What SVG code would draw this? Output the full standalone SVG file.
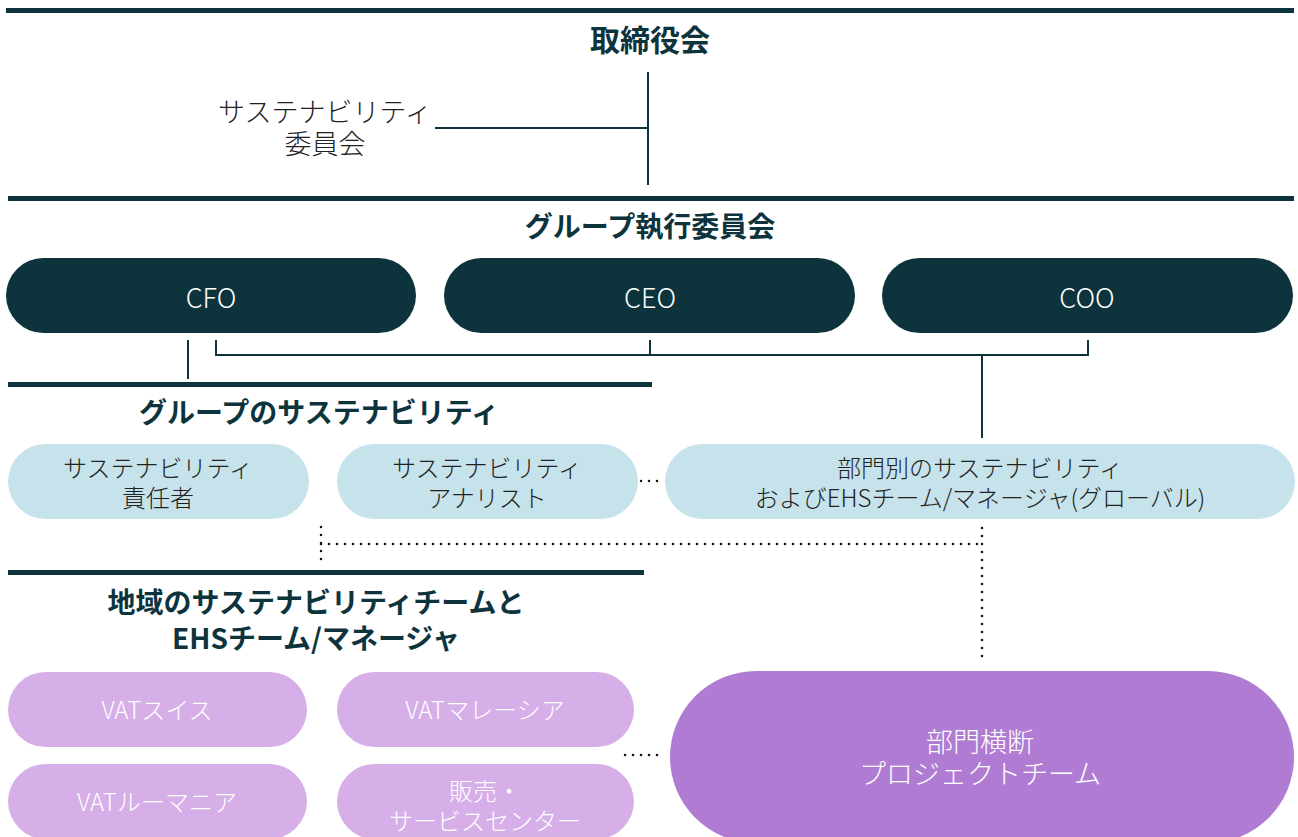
<svg xmlns="http://www.w3.org/2000/svg" width="1298" height="837" viewBox="0 0 1298 837">
<style>
text{font-family:"Noto Sans CJK JP","Noto Sans",sans-serif;text-anchor:middle;dominant-baseline:central}
.h{font-weight:700;font-size:28px;fill:#0d343c}
.h1{font-size:30px}
.l{font-weight:300;font-size:24px;fill:#222}
.lc{font-size:27px}
.w{font-weight:300;font-size:27px;fill:#ffffff}
.ws{font-size:24px}
.bar{fill:#0d343c}
.dark{fill:#0d343c}
.blue{fill:#c6e2ea}
.lp{fill:#d6aee8}
.pp{fill:#b07cd3}
.ln{stroke:#0d343c;stroke-width:2;fill:none}
.dot{stroke:#111;stroke-width:2.5;stroke-linecap:round;stroke-dasharray:0 8;fill:none}
</style>
<g id="bars">
<rect class="bar" x="6" y="8" width="1288" height="5"/>
<rect class="bar" x="8" y="196" width="1286" height="5"/>
<rect class="bar" x="8" y="382" width="644" height="5"/>
<rect class="bar" x="8" y="570" width="636" height="5"/>
</g>
<g id="connectors">
<path class="ln" d="M648 72V185M435 128H648"/>
<path class="ln" d="M188 340V379"/>
<path class="ln" d="M216 340V355H1088V340M650 340V355M982 355V438"/>
<path class="dot" d="M641 481H663"/>
<path class="dot" d="M321 527V563M321 544H982M982 528V663"/>
<path class="dot" d="M625 755H661"/>
</g>
<g id="board"><text class="h h1" x="650" y="38">取締役会</text></g>
<g id="sust-committee"><text class="l lc" x="325" y="110"><tspan x="325">サステナビリティ</tspan><tspan x="325" dy="32">委員会</tspan></text></g>
<g id="gec"><text class="h" x="650" y="225">グループ執行委員会</text></g>
<g id="cfo"><rect class="dark" x="6" y="258" width="410" height="75" rx="37.5"/><text class="w" x="211" y="296">CFO</text></g>
<g id="ceo"><rect class="dark" x="444" y="258" width="411" height="75" rx="37.5"/><text class="w" x="650" y="296">CEO</text></g>
<g id="coo"><rect class="dark" x="882" y="258" width="411" height="75" rx="37.5"/><text class="w" x="1087" y="296">COO</text></g>
<g id="group-sust"><text class="h" x="319" y="411">グループのサステナビリティ</text></g>
<g id="sust-head"><rect class="blue" x="8" y="444" width="301" height="75" rx="37.5"/><text class="l" x="158" y="466"><tspan x="158">サステナビリティ</tspan><tspan x="158" dy="30">責任者</tspan></text></g>
<g id="sust-analyst"><rect class="blue" x="337" y="444" width="301" height="75" rx="37.5"/><text class="l" x="487" y="466"><tspan x="487">サステナビリティ</tspan><tspan x="487" dy="30">アナリスト</tspan></text></g>
<g id="div-sust"><rect class="blue" x="665" y="444" width="630" height="75" rx="37.5"/><text class="l" x="980" y="466"><tspan x="980">部門別のサステナビリティ</tspan><tspan x="980" dy="30">およびEHSチーム/マネージャ(グローバル)</tspan></text></g>
<g id="regional"><text class="h" x="316" y="601"><tspan x="316">地域のサステナビリティチームと</tspan><tspan x="316" dy="36">EHSチーム/マネージャ</tspan></text></g>
<g id="vat-ch"><rect class="lp" x="8" y="672" width="299" height="75" rx="37.5"/><text class="w ws" x="157" y="708">VATスイス</text></g>
<g id="vat-my"><rect class="lp" x="337" y="672" width="297" height="75" rx="37.5"/><text class="w ws" x="485" y="708">VATマレーシア</text></g>
<g id="vat-ro"><rect class="lp" x="8" y="764" width="299" height="75" rx="37.5"/><text class="w ws" x="157" y="800">VATルーマニア</text></g>
<g id="sales"><rect class="lp" x="337" y="764" width="297" height="75" rx="37.5"/><text class="w ws" x="485" y="789"><tspan x="485">販売・</tspan><tspan x="485" dy="30">サービスセンター</tspan></text></g>
<g id="cross"><rect class="pp" x="670" y="671" width="624" height="172" rx="86"/><text class="w" x="980" y="740"><tspan x="980">部門横断</tspan><tspan x="980" dy="32">プロジェクトチーム</tspan></text></g>
</svg>
